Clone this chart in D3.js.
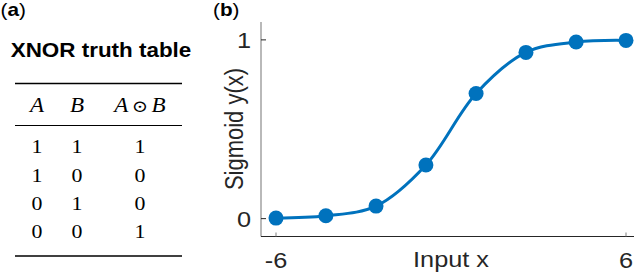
<!DOCTYPE html>
<html>
<head>
<meta charset="utf-8">
<script src="https://cdn.jsdelivr.net/npm/d3@7"></script>
<style>
  html, body { margin: 0; padding: 0; background: #fff; }
  svg { display: block; }
</style>
</head>
<body>
<svg id="chart" width="634" height="272"></svg>
<script>
// ---------- data ----------
const tableTitle = "XNOR truth table";
const tableHeaders = ["A", "B", "A⊙B"];
const colA = [1, 1, 0, 0];
const colB = [1, 0, 1, 0];
const colXnor = [1, 0, 0, 1];

const xValues = [-6, -4.29, -2.57, -0.86, 0.86, 2.57, 4.29, 6];
const yValues = [0.003, 0.016, 0.07, 0.30, 0.70, 0.93, 0.988, 0.997];
const xTicks = [-6, 6];
const yTicks = [0, 1];
const xLabel = "Input x";
const yLabel = "Sigmoid y(x)";

// ---------- setup ----------
const SX = 1.15; // horizontal stretch of text
const svg = d3.select("#chart");
const sans = "'Liberation Sans', Arial, Helvetica, sans-serif";
const serif = "'Liberation Serif', 'DejaVu Serif', serif";
const blue = "#0072BD";

function txt(g, x, y, s, o = {}) {
  const t = g.append("text")
    .attr("transform", `translate(${x},${y}) scale(${SX},1)` + (o.rot ? ` rotate(${o.rot})` : ""))
    .attr("text-anchor", o.anchor || "middle")
    .attr("font-family", o.family || sans)
    .attr("font-size", o.size || 22)
    .attr("font-weight", o.weight || "normal")
    .attr("font-style", o.style || "normal")
    .attr("fill", o.fill || "#262626");
  if (s !== null) t.text(s);
  return t;
}

// ---------- panel labels ----------
function panelLabel(x, letter) {
  const t = txt(svg, x, 16, null, { anchor: "start", size: 18, fill: "#000" });
  t.append("tspan").text("(");
  t.append("tspan").attr("font-weight", "bold").text(letter);
  t.append("tspan").text(")");
}
panelLabel(0.5, "a");
panelLabel(213, "b");

// ---------- truth table ----------
const tg = svg.append("g");
txt(tg, 101, 57, tableTitle, { size: 19.5, weight: "bold", fill: "#000" });

const ruleX = [15, 182];
const colX = [37, 77, 140];
[[83.5, 1.6], [125.5, 1], [256, 1.6]].forEach(([y, w]) => {
  tg.append("line").attr("x1", ruleX[0]).attr("x2", ruleX[1])
    .attr("y1", y).attr("y2", y).attr("stroke", "#000").attr("stroke-width", w);
});

// header
const hSize = 20;
txt(tg, colX[0], 112, tableHeaders[0], { family: serif, size: hSize, style: "italic", fill: "#000" });
txt(tg, colX[1], 112, tableHeaders[1], { family: serif, size: hSize, style: "italic", fill: "#000" });
{
  const h = txt(tg, colX[2], 112, null, { family: serif, size: hSize, fill: "#000" });
  const parts = tableHeaders[2].split("⊙");
  h.append("tspan").attr("font-style", "italic").text(parts[0]);
  h.append("tspan").attr("font-family", "'DejaVu Serif', serif").attr("font-size", 17).attr("dx", 3).text("⊙");
  h.append("tspan").attr("font-style", "italic").attr("dx", 3).text(parts[1]);
}
const rowY = d3.scaleLinear().domain([0, 3]).range([153.3, 238.3]);
[colA, colB, colXnor].forEach((col, ci) => {
  col.forEach((v, ri) => {
    txt(tg, colX[ci], rowY(ri), String(v), { family: serif, size: 19, fill: "#000" });
  });
});

// ---------- sigmoid plot ----------
const box = { left: 261, right: 634, top: 22, bottom: 236.5 };
const x = d3.scaleLinear().domain([-6, 6]).range([276, 626]);
const y = d3.scaleLinear().domain([-0.1, 1.1]).range([box.bottom, box.top]);

const pg = svg.append("g");
// axes lines
pg.append("line").attr("x1", box.left).attr("x2", box.left)
  .attr("y1", box.top).attr("y2", box.bottom).attr("stroke", "#8a8a8a").attr("stroke-width", 1.2);
pg.append("line").attr("x1", box.left).attr("x2", box.right)
  .attr("y1", box.bottom).attr("y2", box.bottom).attr("stroke", "#262626").attr("stroke-width", 1.2);

// y ticks
yTicks.forEach(v => {
  pg.append("line").attr("x1", box.left).attr("x2", box.left + 5)
    .attr("y1", y(v)).attr("y2", y(v)).attr("stroke", "#262626").attr("stroke-width", 1);
  txt(pg, 251, y(v) + 8, String(v), { anchor: "end" });
});
// x ticks
xTicks.forEach(v => {
  pg.append("line").attr("x1", x(v)).attr("x2", x(v))
    .attr("y1", box.bottom).attr("y2", box.bottom - 4).attr("stroke", "#808080").attr("stroke-width", 1);
  txt(pg, x(v), 268, String(v));
});
txt(pg, 451, 267, xLabel);
txt(pg, 243, 129, yLabel, { rot: -90 });

// curve
const pts = xValues.map((v, i) => [v, yValues[i]]);
const line = d3.line().x(d => x(d[0])).y(d => y(d[1])).curve(d3.curveCatmullRom.alpha(0.5));
pg.append("path").datum(pts).attr("d", line)
  .attr("fill", "none").attr("stroke", blue).attr("stroke-width", 3);
pg.selectAll("circle.pt").data(pts).join("circle").attr("class", "pt")
  .attr("cx", d => x(d[0])).attr("cy", d => y(d[1])).attr("r", 7.5).attr("fill", blue);
</script>
</body>
</html>
